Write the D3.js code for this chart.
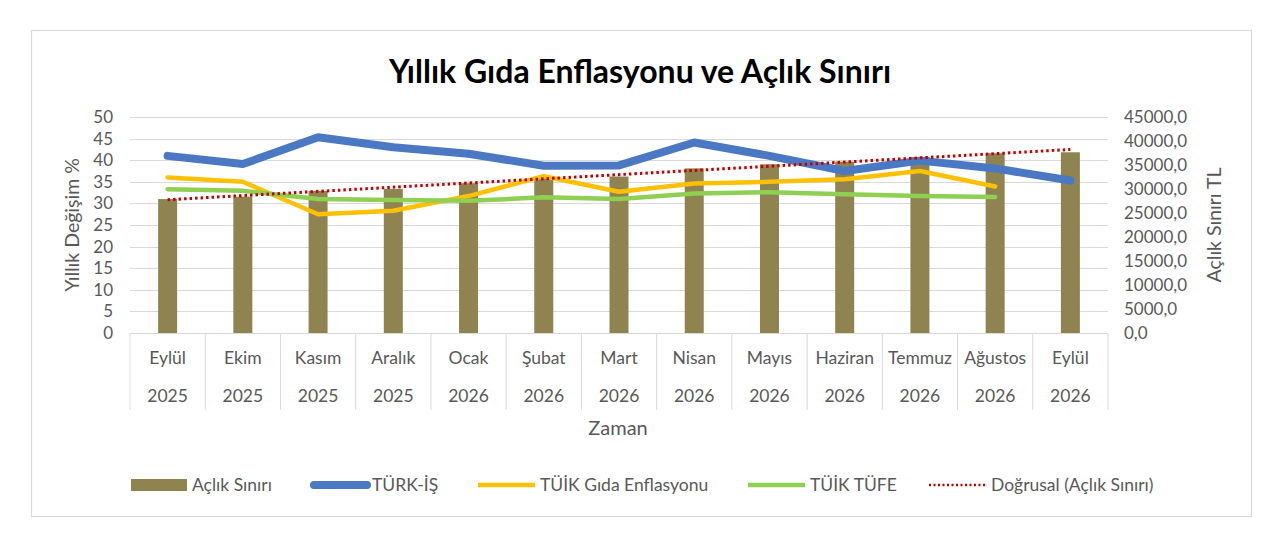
<!DOCTYPE html>
<html><head><meta charset="utf-8">
<script src="https://cdn.jsdelivr.net/npm/d3@7"></script>
<style>body{margin:0;background:#fff}svg{display:block}</style>
</head><body>
<svg id="c" width="1280" height="552"></svg>
<script>
const months = ["Eylül","Ekim","Kasım","Aralık","Ocak","Şubat","Mart","Nisan","Mayıs","Haziran","Temmuz","Ağustos","Eylül"];
const years = ["2025","2025","2025","2025","2026","2026","2026","2026","2026","2026","2026","2026","2026"];
const aclikSiniri = [27900,28400,29600,30000,31200,32350,32600,34300,35150,35700,36650,37450,37650];
const turkIs = [41.0,39.1,45.3,43.0,41.5,38.7,38.8,44.1,41.0,37.5,39.9,38.1,35.3];
const tuikGida = [36.0,35.0,27.5,28.3,31.7,36.3,32.7,34.6,35.0,35.6,37.5,33.9];
const tuikTufe = [33.3,32.9,31.0,30.8,30.6,31.4,31.0,32.3,32.6,32.1,31.7,31.5];
const leftTicks = [0,5,10,15,20,25,30,35,40,45,50];
const rightTicks = [0,5000,10000,15000,20000,25000,30000,35000,40000,45000];

const svg = d3.select("#c");
const FONT = "Lato, 'Open Sans', sans-serif";
const GRAY = "#595959";
const idx = months.map((d,i)=>i);
const x = d3.scaleBand().domain(idx).range([130,1108]);
const cx = i => x(i) + x.bandwidth()/2;
const yL = d3.scaleLinear().domain([0,50]).range([333,117]);
const yR = d3.scaleLinear().domain([0,45000]).range([333,117]);

// border
svg.append("rect").attr("x",31.5).attr("y",30.5).attr("width",1220).attr("height",486)
  .attr("fill","#fff").attr("stroke","#d9d9d9").attr("stroke-width",1.2);

// title
svg.append("text").attr("x",640).attr("y",83).attr("text-anchor","middle")
  .attr("font-family",FONT).attr("font-weight","bold").attr("font-size",32).attr("fill","#000")
  .text("Yıllık Gıda Enflasyonu ve Açlık Sınırı");

// gridlines
svg.append("g").selectAll("line").data(leftTicks).join("line")
  .attr("x1",130).attr("x2",1108).attr("y1",d=>Math.round(yL(d))+0.5).attr("y2",d=>Math.round(yL(d))+0.5)
  .attr("stroke","#d9d9d9").attr("stroke-width",1);

// left axis
const gl = svg.append("g").attr("transform","translate(118,0)")
  .call(d3.axisLeft(yL).tickValues(leftTicks).tickSize(0).tickPadding(0));
gl.select(".domain").remove();
gl.selectAll("text").attr("font-family",FONT).attr("font-size",17).attr("fill",GRAY).attr("dx",-5);

// right axis
const gr = svg.append("g").attr("transform","translate(1124,0)")
  .call(d3.axisRight(yR).tickValues(rightTicks).tickSize(0).tickPadding(0)
    .tickFormat(d=>d.toFixed(1).replace(".",",")));
gr.select(".domain").remove();
gr.selectAll("text").attr("font-family",FONT).attr("font-size",17).attr("fill",GRAY);

// axis titles
svg.append("text").attr("transform","translate(79,225) rotate(-90)").attr("text-anchor","middle")
  .attr("font-family",FONT).attr("font-size",19.5).attr("fill",GRAY).text("Yıllık Değişim %");
svg.append("text").attr("transform","translate(1221,225) rotate(-90)").attr("text-anchor","middle")
  .attr("font-family",FONT).attr("font-size",19.5).attr("fill",GRAY).text("Açlık Sınırı TL");

// category axis (table style)
const sep = idx.concat([13]);
svg.append("g").selectAll("line").data(sep).join("line")
  .attr("x1",d=> (d<13? x(d): 1108)).attr("x2",d=> (d<13? x(d): 1108))
  .attr("y1",333).attr("y2",410).attr("stroke","#d9d9d9").attr("stroke-width",1);
svg.append("line").attr("x1",130).attr("x2",1108).attr("y1",333.5).attr("y2",333.5)
  .attr("stroke","#d9d9d9").attr("stroke-width",1);
svg.append("g").selectAll("text").data(idx).join("text")
  .attr("x",cx).attr("y",364).attr("text-anchor","middle")
  .attr("font-family",FONT).attr("font-size",17.5).attr("fill",GRAY).text(i=>months[i]);
svg.append("g").selectAll("text").data(idx).join("text")
  .attr("x",cx).attr("y",402).attr("text-anchor","middle")
  .attr("font-family",FONT).attr("font-size",17.5).attr("fill",GRAY).text(i=>years[i]);
svg.append("text").attr("x",618).attr("y",435).attr("text-anchor","middle")
  .attr("font-family",FONT).attr("font-size",20).attr("fill",GRAY).text("Zaman");

// bars
const BW = 19;
const OLIVE = "#8f8450";
svg.append("g").selectAll("rect").data(aclikSiniri).join("rect")
  .attr("x",(d,i)=>cx(i)-BW/2).attr("width",BW)
  .attr("y",d=>yR(d)).attr("height",d=>yR(0)-yR(d)).attr("fill",OLIVE);

// trendline (linear regression of bars)
const n = aclikSiniri.length;
const mx = d3.mean(idx), my = d3.mean(aclikSiniri);
const slope = d3.sum(idx,i=>(i-mx)*(aclikSiniri[i]-my))/d3.sum(idx,i=>(i-mx)*(i-mx));
const icpt = my - slope*mx;

const mkLine = (sc) => d3.line().x((d,i)=>cx(i)).y(d=>sc(d));
svg.append("path").datum(turkIs).attr("d",mkLine(yL)).attr("fill","none")
  .attr("stroke","#4a78c2").attr("stroke-width",8).attr("stroke-linejoin","round").attr("stroke-linecap","round");
svg.append("path").datum(tuikGida).attr("d",mkLine(yL)).attr("fill","none")
  .attr("stroke","#ffc000").attr("stroke-width",4.5).attr("stroke-linejoin","round").attr("stroke-linecap","round");
svg.append("path").datum(tuikTufe).attr("d",mkLine(yL)).attr("fill","none")
  .attr("stroke","#8fcf52").attr("stroke-width",4.5).attr("stroke-linejoin","round").attr("stroke-linecap","round");
svg.append("line").attr("x1",cx(0)).attr("x2",cx(n-1))
  .attr("y1",yR(icpt)).attr("y2",yR(icpt+slope*(n-1)))
  .attr("stroke","#c00000").attr("stroke-width",3).attr("stroke-dasharray","2.5,3");

// legend
const lg = svg.append("g").attr("font-family",FONT).attr("font-size",17.5).attr("fill",GRAY);
lg.append("rect").attr("x",131).attr("y",479).attr("width",56).attr("height",12).attr("fill",OLIVE);
lg.append("text").attr("x",192).attr("y",491).text("Açlık Sınırı");
lg.append("line").attr("x1",314).attr("x2",367).attr("y1",485).attr("y2",485)
  .attr("stroke","#4a78c2").attr("stroke-width",8).attr("stroke-linecap","round");
lg.append("text").attr("x",372).attr("y",491).text("TÜRK-İŞ");
lg.append("line").attr("x1",478).attr("x2",535).attr("y1",485).attr("y2",485)
  .attr("stroke","#ffc000").attr("stroke-width",4.5);
lg.append("text").attr("x",540).attr("y",491).text("TÜİK Gıda Enflasyonu");
lg.append("line").attr("x1",748).attr("x2",805).attr("y1",485).attr("y2",485)
  .attr("stroke","#8fcf52").attr("stroke-width",4.5);
lg.append("text").attr("x",810).attr("y",491).text("TÜİK TÜFE");
lg.append("line").attr("x1",929).attr("x2",986).attr("y1",485).attr("y2",485)
  .attr("stroke","#c00000").attr("stroke-width",2.5).attr("stroke-dasharray","2,2.5");
lg.append("text").attr("x",991).attr("y",491).text("Doğrusal (Açlık Sınırı)");
</script>
</body></html>
